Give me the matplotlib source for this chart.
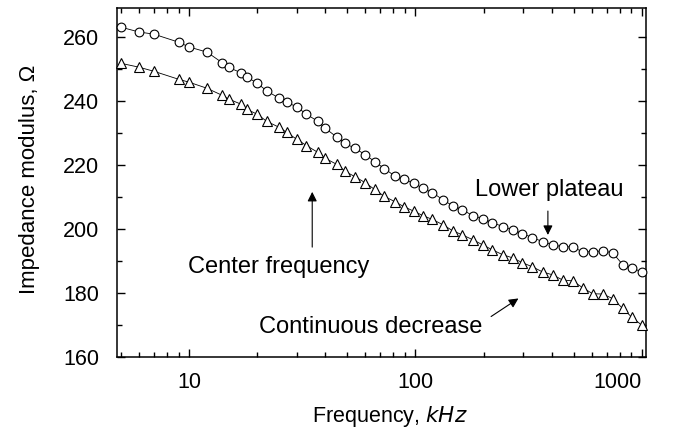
import matplotlib
matplotlib.use('Agg')
import matplotlib.pyplot as plt
from matplotlib.ticker import MultipleLocator, LogLocator, NullFormatter, FixedLocator, FixedFormatter

plt.rcParams['font.family'] = ['Liberation Sans', 'DejaVu Sans']

# frequency points, kHz
freq = [5, 6, 7, 9, 10, 12, 14, 15, 17, 18, 20, 22, 25, 27, 30, 33, 37, 40,
        45, 49, 54, 60, 66, 73, 81, 89, 99, 108, 119, 132, 146, 161, 179, 198,
        219, 243, 269, 297, 329, 365, 404, 447, 495, 548, 607, 672, 744, 824,
        903, 1000]

# upper curve (circles), Ohm
z_circle = [263.1, 261.6, 260.9, 258.4, 256.9, 255.3, 252.0, 250.5, 248.8,
            247.5, 245.6, 243.2, 240.9, 239.7, 238.1, 235.9, 233.7, 231.5,
            228.7, 226.8, 225.2, 223.3, 221.1, 218.9, 216.6, 215.5, 214.3,
            212.7, 211.4, 209.2, 207.3, 206.1, 204.2, 203.3, 202.0, 200.8,
            199.8, 198.6, 197.3, 196.1, 195.1, 194.5, 194.4, 192.9, 192.9,
            193.2, 192.6, 188.9, 187.9, 186.6]

# lower curve (triangles), Ohm
z_triangle = [251.8, 250.6, 249.3, 246.8, 245.9, 244.0, 241.8, 240.6, 239.0,
              237.4, 235.9, 233.7, 231.8, 230.2, 228.0, 226.1, 224.0, 222.1,
              220.2, 218.0, 216.4, 214.5, 212.4, 210.2, 208.6, 207.0, 205.5,
              204.2, 203.0, 201.4, 199.5, 198.2, 196.7, 195.1, 193.5, 192.0,
              191.0, 189.5, 188.2, 186.6, 185.7, 184.1, 183.8, 181.7, 179.8,
              179.7, 178.3, 175.2, 172.5, 170.0]

x_ticks = [10, 100, 1000]
x_ticklabels = ['10', '100', '1000']

fig = plt.figure(figsize=(6.88, 4.36), dpi=100)
ax = fig.add_axes([0.170, 0.181, 0.769, 0.800])

ax.plot(freq, z_circle, color='black', lw=0.6, marker='o', ms=6.3,
        mfc='white', mec='black', mew=0.8, clip_on=False, zorder=3)
ax.plot(freq, z_triangle, color='black', lw=0.6, marker='^', ms=6.8,
        mfc='white', mec='black', mew=0.8, clip_on=False, zorder=3)

ax.set_xscale('log')
ax.set_xlim(4.8, 1045)
ax.set_ylim(160, 269)

ax.xaxis.set_major_locator(FixedLocator(x_ticks))
ax.xaxis.set_major_formatter(FixedFormatter(x_ticklabels))
ax.xaxis.set_minor_locator(LogLocator(base=10, subs=range(2, 10)))
ax.xaxis.set_minor_formatter(NullFormatter())
ax.yaxis.set_major_locator(MultipleLocator(20))
ax.yaxis.set_minor_locator(MultipleLocator(10))

ax.tick_params(which='both', direction='in', top=True, right=True,
               width=1.0, labelsize=15.5)
ax.tick_params(which='major', length=6)
ax.tick_params(which='minor', length=3.5)
ax.tick_params(axis='y', pad=13)
ax.tick_params(axis='x', pad=11)
for sp in ax.spines.values():
    sp.set_linewidth(1.1)
# the last label sits left of its tick, inside the frame
ax.get_xticklabels()[-1].set_ha('right')

ax.set_xlabel('Frequency, $\\it{kHz}$', fontsize=15.5)
ax.xaxis.set_label_coords(0.515, -0.135)
ax.set_ylabel('Impedance modulus, \u03a9', fontsize=16)
ax.yaxis.set_label_coords(-0.146, 0.51)

arrow = dict(arrowstyle='-|>', color='black', lw=0.8, mutation_scale=14)
ax.annotate('', xy=(385, 197.3), xytext=(385, 206.5), arrowprops=arrow)
ax.text(390, 212.2, 'Lower plateau', fontsize=17, ha='center', va='center')
ax.annotate('', xy=(35, 212.5), xytext=(35, 193.5), arrowprops=arrow)
ax.text(25, 188.2, 'Center frequency', fontsize=17, ha='center', va='center')
ax.annotate('', xy=(292, 178.8), xytext=(211, 172.2), arrowprops=arrow)
ax.text(63.5, 169.4, 'Continuous decrease', fontsize=17, ha='center', va='center')

fig.savefig('out.png', dpi=100)
